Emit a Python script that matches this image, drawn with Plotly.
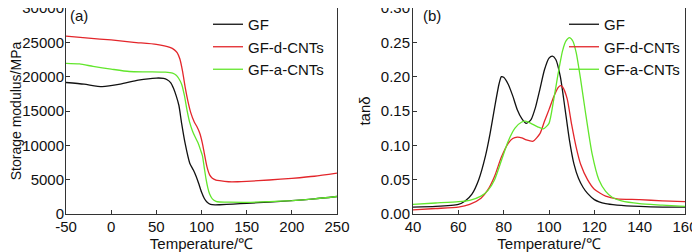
import plotly.graph_objects as go

# ---- Panel (a): storage modulus ----
T_gf_a = [-50, -30, -10, 10, 30, 50, 58, 62, 66, 69, 72, 75, 78, 82, 87, 91, 94, 97, 100, 103, 106, 110, 115, 120, 135, 150, 175, 200, 225, 250]
E_gf = [19150, 18900, 18550, 18900, 19500, 19800, 19750, 19550, 19100, 18300, 17200, 15800, 13200, 10200, 7400, 6400, 5500, 4400, 3200, 2300, 1750, 1400, 1330, 1350, 1450, 1550, 1750, 1950, 2200, 2550]

T_d_a = [-50, -25, 0, 25, 50, 65, 70, 73, 76, 79, 82, 85, 88, 92, 95, 98, 101, 103, 106, 109, 112, 116, 120, 130, 140, 150, 175, 200, 225, 250]
E_d = [25900, 25600, 25350, 25000, 24700, 24250, 23900, 23500, 22600, 20800, 18400, 16400, 14800, 13400, 12700, 11800, 10300, 8900, 6900, 5700, 5200, 4950, 4850, 4700, 4700, 4750, 4950, 5200, 5500, 5950]

T_a_a = [-50, -35, -20, 0, 20, 40, 60, 68, 72, 75, 78, 81, 84, 87, 90, 93, 96, 99, 101, 103, 105, 107, 109, 112, 116, 120, 130, 150, 175, 200, 225, 250]
E_a = [21950, 21850, 21500, 21100, 20750, 20700, 20650, 20500, 20200, 19700, 18900, 17300, 15100, 13300, 12100, 11200, 10400, 9300, 8500, 6800, 5100, 3800, 2900, 2200, 1850, 1750, 1720, 1700, 1800, 1950, 2200, 2550]

# ---- Panel (b): tan delta ----
T_gf_b = [40, 50, 60, 63, 66, 69, 72, 74, 76, 78, 79, 80, 82, 84, 86, 88, 90, 92, 94, 96, 98, 100, 101.5, 103, 105, 107, 109, 111, 113, 115, 117, 120, 125, 130, 140, 150, 160]
tan_gf = [0.010, 0.011, 0.014, 0.019, 0.029, 0.050, 0.085, 0.117, 0.155, 0.190, 0.200, 0.199, 0.189, 0.172, 0.152, 0.139, 0.132, 0.137, 0.155, 0.182, 0.210, 0.227, 0.230, 0.225, 0.200, 0.155, 0.108, 0.073, 0.052, 0.039, 0.030, 0.021, 0.015, 0.013, 0.011, 0.010, 0.010]

T_d_b = [40, 50, 60, 65, 70, 73, 76, 79, 82, 84, 86, 88, 90, 93, 96, 98, 100, 102, 104, 105, 106, 108, 110, 112, 114, 117, 120, 125, 130, 140, 150, 160]
tan_d = [0.006, 0.008, 0.010, 0.014, 0.023, 0.035, 0.055, 0.083, 0.103, 0.110, 0.112, 0.111, 0.108, 0.106, 0.117, 0.135, 0.152, 0.170, 0.184, 0.187, 0.185, 0.168, 0.130, 0.097, 0.072, 0.050, 0.036, 0.026, 0.022, 0.021, 0.019, 0.018]

T_a_b = [40, 50, 60, 65, 70, 73, 76, 79, 82, 85, 88, 90, 92, 95, 97.5, 100, 102, 104, 106, 107.5, 109, 110.5, 112, 114, 116, 119, 122, 125, 128, 132, 140, 150, 160]
tan_a = [0.014, 0.016, 0.018, 0.020, 0.026, 0.034, 0.050, 0.078, 0.106, 0.125, 0.134, 0.135, 0.132, 0.127, 0.124, 0.132, 0.165, 0.204, 0.238, 0.252, 0.257, 0.252, 0.235, 0.195, 0.150, 0.088, 0.050, 0.033, 0.024, 0.019, 0.015, 0.013, 0.011]

names = ["GF", "GF-d-CNTs", "GF-a-CNTs"]
colors = ["#111111", "#e3262b", "#62e62c"]

xticks_a = [-50, 0, 50, 100, 150, 200, 250]
yticks_a = [0, 5000, 10000, 15000, 20000, 25000, 30000]
xticks_b = [40, 60, 80, 100, 120, 140, 160]
yticks_b = [0.00, 0.05, 0.10, 0.15, 0.20, 0.25, 0.30]

FONT = "Liberation Sans, Arial, sans-serif"
FS = 15

fig = go.Figure()
for (x, y), n, c in zip([(T_gf_a, E_gf), (T_d_a, E_d), (T_a_a, E_a)], names, colors):
    fig.add_trace(go.Scatter(x=x, y=y, mode="lines", name=n, line=dict(color=c, width=1.3, shape="spline", smoothing=0.6),
                             xaxis="x", yaxis="y", legend="legend"))
for (x, y), n, c in zip([(T_gf_b, tan_gf), (T_d_b, tan_d), (T_a_b, tan_a)], names, colors):
    fig.add_trace(go.Scatter(x=x, y=y, mode="lines", name=n, line=dict(color=c, width=1.3, shape="spline", smoothing=0.6),
                             xaxis="x2", yaxis="y2", legend="legend2"))

W, H = 700, 252
# the page body adds an 8 px offset; layout positions below are given in window pixels
OFF = 8
def px_x(sx):
    return (sx - OFF) / W
def px_y(sy):
    return 1 - (sy - OFF) / H

ax_common = dict(showgrid=False, zeroline=False, showline=True, linecolor="#333333", linewidth=1,
                 mirror=True, ticks="inside", ticklen=4, tickcolor="#333333",
                 ticklabeloverflow="allow", automargin=False,
                 tickfont=dict(family=FONT, size=FS, color="#111111"))
ydom = [px_y(214), 1.0]

fig.update_layout(
    width=W, height=H, margin=dict(l=0, r=0, t=0, b=0, autoexpand=False),
    paper_bgcolor="white", plot_bgcolor="white",
    font=dict(family=FONT, size=FS, color="#111111"),
    xaxis=dict(domain=[px_x(66), px_x(337)], range=[-50, 250], tickvals=xticks_a,
               ticktext=[str(v) for v in xticks_a], anchor="y", ticklabelstandoff=-1,
               title=dict(text="Temperature/℃", standoff=2, font=dict(size=FS)), **ax_common),
    yaxis=dict(domain=ydom, range=[0, 30000], tickvals=yticks_a,
               ticktext=[str(v) for v in yticks_a], anchor="x", ticklabelstandoff=-2,
               title=dict(text="Storage modulus/MPa", standoff=0, font=dict(size=14)), **ax_common),
    xaxis2=dict(domain=[px_x(413), px_x(685)], range=[40, 160], tickvals=xticks_b, anchor="y2",
                ticklabelstandoff=-1,
                title=dict(text="Temperature/℃", standoff=2, font=dict(size=FS)), **ax_common),
    yaxis2=dict(domain=ydom, range=[0, 0.30], tickvals=yticks_b,
                ticktext=[f"{v:.2f}" for v in yticks_b], anchor="x2", ticklabelstandoff=-1,
                title=dict(text="tanδ", standoff=6, font=dict(size=FS)), **ax_common),
    legend=dict(x=200 / W, y=1.0, xanchor="left", yanchor="top", bgcolor="rgba(0,0,0,0)",
                font=dict(family=FONT, size=FS), tracegroupgap=0, itemwidth=30),
    legend2=dict(x=556 / W, y=1.0, xanchor="left", yanchor="top", bgcolor="rgba(0,0,0,0)",
                 font=dict(family=FONT, size=FS), tracegroupgap=0, itemwidth=30),
    showlegend=True,
    annotations=[
        dict(text="(a)", x=60 / W, y=px_y(15), xref="paper", yref="paper", xanchor="left", yanchor="middle",
             showarrow=False, font=dict(family=FONT, size=FS)),
        dict(text="(b)", x=413 / W, y=px_y(15), xref="paper", yref="paper", xanchor="left", yanchor="middle",
             showarrow=False, font=dict(family=FONT, size=FS)),
    ],
)

fig.write_html("out.html")
